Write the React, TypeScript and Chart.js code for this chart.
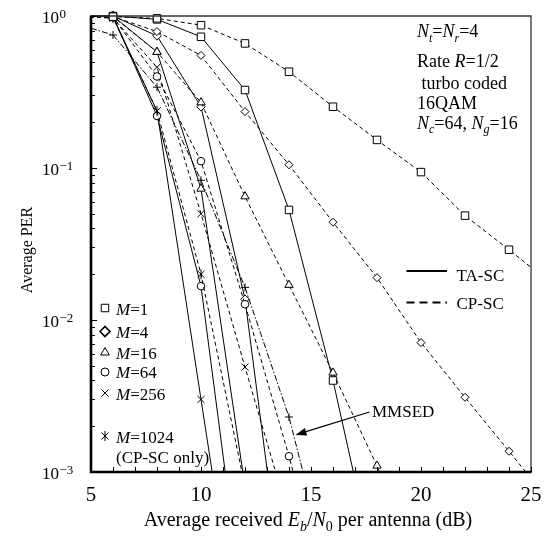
import React, { useEffect, useRef } from "react";
import { Chart, registerables } from "chart.js";

Chart.register(...registerables);

// ---- data (Eb/N0 in dB, Average PER) ----
const ebn0 = [4, 6, 8, 10, 12, 14, 16, 18, 20, 22, 24, 26];

// CP-SC (dashed)
const cpM1 = [1.0, 0.99, 0.965, 0.87, 0.66, 0.43, 0.253, 0.153, 0.094, 0.0486, 0.029, 0.017];
const cpM4 = [1.0, 0.99, 0.79, 0.55, 0.235, 0.105, 0.044, 0.019, 0.0071, 0.0031, 0.00137, 0.0006];
const cpM16 = [1.0, 0.99, 0.58, 0.27, 0.065, 0.017, 0.0045, 0.0011, 0.0002];
const cpM64 = [1.0, 0.98, 0.4, 0.111, 0.0127, 0.00127, 0.0001];
const cpM256 = [1.0, 0.97, 0.46, 0.05, 0.0049, 0.0005];
const cpM1024 = [1.0, 0.97, 0.237, 0.02, 0.0008];
// TA-SC (solid)
const taM1 = [1.0, 1.0, 0.95, 0.73, 0.326, 0.053, 0.004, 0.0002];
const taM4 = [1.0, 1.0, 0.74, 0.253, 0.0137, 0.00008];
const taM16 = [1.0, 1.0, 0.58, 0.073, 0.0008];
const taM64 = [1.0, 0.99, 0.22, 0.0167, 0.0001];
const taM256 = [1.0, 0.99, 0.237, 0.003, 0.00004];
// MMSED (dash-dot)
const mmsed = [0.92, 0.75, 0.34, 0.083, 0.0164, 0.0023, 0.00017];

// ---- axis ticks ----
const xTickValues = [5, 10, 15, 20, 25];
const yTickValues = [1, 0.1, 0.01, 0.001];
const yTickExponents = ["0", "\u22121", "\u22122", "\u22123"];
const legendM = ["1", "4", "16", "64", "256", "1024"];

const FONT = "'Liberation Serif', 'Times New Roman', Times, serif";
const DASH = [4, 3];
const DASHDOT = [6, 2, 1.5, 2];

type Part = { t: string; i?: boolean; sub?: boolean; sup?: boolean };

function drawRich(ctx: CanvasRenderingContext2D, parts: Part[], x: number, y: number, size: number, align: "left" | "center" = "left") {
  const fontFor = (p: Part) => `${p.i ? "italic " : ""}${p.sub || p.sup ? Math.round(size * 0.68) : size}px ${FONT}`;
  let total = 0;
  for (const p of parts) {
    ctx.font = fontFor(p);
    total += ctx.measureText(p.t).width;
  }
  let cx = align === "center" ? x - total / 2 : x;
  ctx.textAlign = "left";
  ctx.textBaseline = "alphabetic";
  for (const p of parts) {
    ctx.font = fontFor(p);
    const dy = p.sub ? size * 0.27 : p.sup ? -size * 0.42 : 0;
    ctx.fillText(p.t, cx, y + dy);
    cx += ctx.measureText(p.t).width;
  }
}

function drawMarker(ctx: CanvasRenderingContext2D, style: string, x: number, y: number, r: number, lw = 1) {
  ctx.save();
  ctx.lineWidth = lw;
  ctx.strokeStyle = "#000";
  ctx.fillStyle = "#fff";
  ctx.beginPath();
  if (style === "rect") {
    const s = r * Math.SQRT1_2;
    ctx.rect(x - s, y - s, 2 * s, 2 * s);
    ctx.fill();
    ctx.stroke();
  } else if (style === "rectRot") {
    ctx.moveTo(x - r, y);
    ctx.lineTo(x, y - r);
    ctx.lineTo(x + r, y);
    ctx.lineTo(x, y + r);
    ctx.closePath();
    ctx.fill();
    ctx.stroke();
  } else if (style === "triangle") {
    for (let k = 0; k < 3; k++) {
      const a = (k * 2 * Math.PI) / 3;
      const px = x + Math.sin(a) * r;
      const py = y - Math.cos(a) * r;
      if (k === 0) ctx.moveTo(px, py);
      else ctx.lineTo(px, py);
    }
    ctx.closePath();
    ctx.fill();
    ctx.stroke();
  } else if (style === "circle") {
    ctx.arc(x, y, r, 0, Math.PI * 2);
    ctx.fill();
    ctx.stroke();
  } else if (style === "crossRot") {
    const s = r * Math.SQRT1_2;
    ctx.moveTo(x - s, y - s);
    ctx.lineTo(x + s, y + s);
    ctx.moveTo(x + s, y - s);
    ctx.lineTo(x - s, y + s);
    ctx.stroke();
  } else if (style === "asterisk") {
    const s = r * Math.SQRT1_2;
    ctx.moveTo(x - s, y - s);
    ctx.lineTo(x + s, y + s);
    ctx.moveTo(x + s, y - s);
    ctx.lineTo(x - s, y + s);
    ctx.moveTo(x, y - r);
    ctx.lineTo(x, y + r);
    ctx.stroke();
  }
  ctx.restore();
}

function makeAsterisk(): HTMLCanvasElement {
  const c = document.createElement("canvas");
  c.width = 12;
  c.height = 12;
  const g = c.getContext("2d")!;
  drawMarker(g, "asterisk", 6, 6, 5, 1);
  return c;
}

const overlay = {
  id: "overlay",
  afterDraw(chart: any) {
    const { ctx, chartArea: ca, scales } = chart;
    const xs = scales.x;
    const ys = scales.y;
    ctx.save();
    ctx.fillStyle = "#000";
    ctx.strokeStyle = "#000";

    // frame
    ctx.lineWidth = 1.3;
    ctx.strokeStyle = "#333";
    ctx.beginPath();
    ctx.moveTo(ca.left, ca.top);
    ctx.lineTo(ca.right, ca.top);
    ctx.lineTo(ca.right, ca.bottom);
    ctx.stroke();
    ctx.strokeStyle = "#000";
    ctx.lineWidth = 2.6;
    ctx.beginPath();
    ctx.moveTo(ca.left, ca.top - 0.6);
    ctx.lineTo(ca.left, ca.bottom);
    ctx.lineTo(ca.right + 0.6, ca.bottom);
    ctx.stroke();

    // x ticks (every dB, inward)
    ctx.lineWidth = 1;
    ctx.beginPath();
    for (let v = xs.min; v <= xs.max; v++) {
      const px = Math.round(xs.getPixelForValue(v)) + 0.5;
      ctx.moveTo(px, ca.bottom);
      ctx.lineTo(px, ca.bottom - 5);
    }
    // y ticks (log, inward)
    for (let e = -3; e <= 0; e++) {
      for (let m = 1; m < 10; m++) {
        const v = m * Math.pow(10, e);
        if (v > ys.max + 1e-12) continue;
        const py = Math.round(ys.getPixelForValue(v)) + 0.5;
        const len = m === 1 ? 6 : 4;
        ctx.moveTo(ca.left, py);
        ctx.lineTo(ca.left + len, py);
      }
    }
    ctx.stroke();

    // x tick labels
    ctx.font = `21px ${FONT}`;
    ctx.textAlign = "center";
    ctx.textBaseline = "alphabetic";
    for (const v of xTickValues) {
      ctx.fillText(String(v), xs.getPixelForValue(v), 501);
    }
    // y tick labels: 10^k
    yTickValues.forEach((v, i) => {
      const py = ys.getPixelForValue(v);
      ctx.font = `17px ${FONT}`;
      ctx.textAlign = "left";
      ctx.fillText("10", 42, py + 6.5);
      const w = ctx.measureText("10").width;
      ctx.font = `13px ${FONT}`;
      ctx.fillText(yTickExponents[i], 42 + w + 0.5, py + 2);
    });

    // axis titles
    drawRich(
      ctx,
      [
        { t: "Average received " },
        { t: "E", i: true },
        { t: "b", i: true, sub: true },
        { t: "/" },
        { t: "N", i: true },
        { t: "0", sub: true },
        { t: " per antenna (dB)" },
      ],
      (ca.left + ca.right) / 2 - 3,
      526,
      20,
      "center"
    );
    ctx.save();
    ctx.translate(32, 250);
    ctx.rotate(-Math.PI / 2);
    ctx.font = `16px ${FONT}`;
    ctx.textAlign = "center";
    ctx.fillText("Average PER", 0, 0);
    ctx.restore();

    // annotation top-right
    const ax = 417;
    drawRich(ctx, [{ t: "N", i: true }, { t: "t", i: true, sub: true }, { t: "=" }, { t: "N", i: true }, { t: "r", i: true, sub: true }, { t: "=4" }], ax, 37, 18);
    drawRich(ctx, [{ t: "Rate " }, { t: "R", i: true }, { t: "=1/2" }], ax, 67, 18);
    drawRich(ctx, [{ t: " turbo coded" }], ax, 88.5, 18);
    drawRich(ctx, [{ t: "16QAM" }], ax, 108.5, 18);
    drawRich(ctx, [{ t: "N", i: true }, { t: "c", i: true, sub: true }, { t: "=64, " }, { t: "N", i: true }, { t: "g", i: true, sub: true }, { t: "=16" }], ax, 128.5, 18);

    // line-style legend
    ctx.lineWidth = 1.8;
    ctx.beginPath();
    ctx.moveTo(406.5, 271);
    ctx.lineTo(447, 271);
    ctx.stroke();
    ctx.setLineDash([8, 5]);
    ctx.beginPath();
    ctx.moveTo(406.5, 302.5);
    ctx.lineTo(447, 302.5);
    ctx.stroke();
    ctx.setLineDash([]);
    drawRich(ctx, [{ t: "TA-SC" }], 456.5, 281, 17);
    drawRich(ctx, [{ t: "CP-SC" }], 456.5, 309, 17);

    // marker legend
    const mk = [
      { s: "rect", r: 5.3, y: 308, b: 315, lw: 1 },
      { s: "rectRot", r: 5, y: 331.5, b: 337.5, lw: 1.6 },
      { s: "triangle", r: 5, y: 352.5, b: 358.5, lw: 1 },
      { s: "circle", r: 4, y: 372, b: 378, lw: 1 },
      { s: "crossRot", r: 5, y: 393, b: 399.5, lw: 1 },
      { s: "asterisk", r: 5, y: 436, b: 442.5, lw: 1 },
    ];
    mk.forEach((m, i) => {
      drawMarker(ctx, m.s, 105, m.y, m.r, m.lw);
      ctx.fillStyle = "#000";
      drawRich(ctx, [{ t: "M", i: true }, { t: "=" + legendM[i] }], 116, m.b, 17);
    });
    drawRich(ctx, [{ t: "(CP-SC only)" }], 116, 462.5, 17);

    // MMSED label + arrow
    drawRich(ctx, [{ t: "MMSED" }], 372, 416.5, 17);
    const x1 = 369.5, y1 = 412, x2 = 295.5, y2 = 435;
    const ang = Math.atan2(y2 - y1, x2 - x1);
    const hl = 11, hw = 4;
    const bx = x2 - Math.cos(ang) * hl, by = y2 - Math.sin(ang) * hl;
    ctx.lineWidth = 1.3;
    ctx.beginPath();
    ctx.moveTo(x1, y1);
    ctx.lineTo(bx, by);
    ctx.stroke();
    ctx.beginPath();
    ctx.moveTo(x2, y2);
    ctx.lineTo(bx + Math.sin(ang) * hw, by - Math.cos(ang) * hw);
    ctx.lineTo(bx - Math.sin(ang) * hw, by + Math.cos(ang) * hw);
    ctx.closePath();
    ctx.fill();

    ctx.restore();
  },
};

export default function App() {
  const ref = useRef<HTMLCanvasElement | null>(null);

  useEffect(() => {
    if (!ref.current) return;
    const star = makeAsterisk();
    const mk = (ys: number[]) => ys.map((y, i) => ({ x: ebn0[i], y }));
    const clip = { left: 0, top: 10, right: 0, bottom: 0 };
    const base = (ys: number[], style: any, r: number, dash: number[]) => ({
      data: mk(ys),
      borderColor: "#000",
      borderWidth: 1,
      borderDash: dash,
      pointStyle: style,
      pointRadius: r,
      pointBorderWidth: 1,
      pointBorderColor: "#000",
      pointBackgroundColor: "#fff",
      tension: 0,
      fill: false,
      clip,
    });
    const datasets = [
      { label: "MMSED", ...base(mmsed, "cross", 4, DASHDOT) },
      { label: "CP-SC M=1", ...base(cpM1, "rect", 5.3, DASH) },
      { label: "CP-SC M=4", ...base(cpM4, "rectRot", 4, DASH) },
      { label: "CP-SC M=16", ...base(cpM16, "triangle", 4.8, DASH) },
      { label: "CP-SC M=64", ...base(cpM64, "circle", 3.8, DASH) },
      { label: "CP-SC M=256", ...base(cpM256, "crossRot", 5, DASH) },
      { label: "CP-SC M=1024", ...base(cpM1024, star, 5, DASH) },
      { label: "TA-SC M=1", ...base(taM1, "rect", 5.3, []) },
      { label: "TA-SC M=4", ...base(taM4, "rectRot", 4.3, []) },
      { label: "TA-SC M=16", ...base(taM16, "triangle", 4.8, []) },
      { label: "TA-SC M=64", ...base(taM64, "circle", 3.8, []) },
      { label: "TA-SC M=256", ...base(taM256, "crossRot", 5, []) },
    ];
    const chart = new Chart(ref.current, {
      type: "line",
      data: { datasets: datasets as any },
      options: {
        animation: false,
        responsive: false,
        maintainAspectRatio: false,
        devicePixelRatio: 1,
        layout: { padding: { left: 91, right: 19, top: 16, bottom: 67 } },
        scales: {
          x: { type: "linear", min: 5, max: 25, display: false },
          y: { type: "logarithmic", min: 0.001, max: 1, display: false },
        },
        plugins: { legend: { display: false }, tooltip: { enabled: false } },
      },
      plugins: [overlay],
    });
    return () => chart.destroy();
  }, []);

  return (
    <div style={{ position: "fixed", left: 0, top: 0, width: 550, height: 539, background: "#fff" }}>
      <canvas ref={ref} width={550} height={539} style={{ display: "block", width: 550, height: 539 }} />
    </div>
  );
}
